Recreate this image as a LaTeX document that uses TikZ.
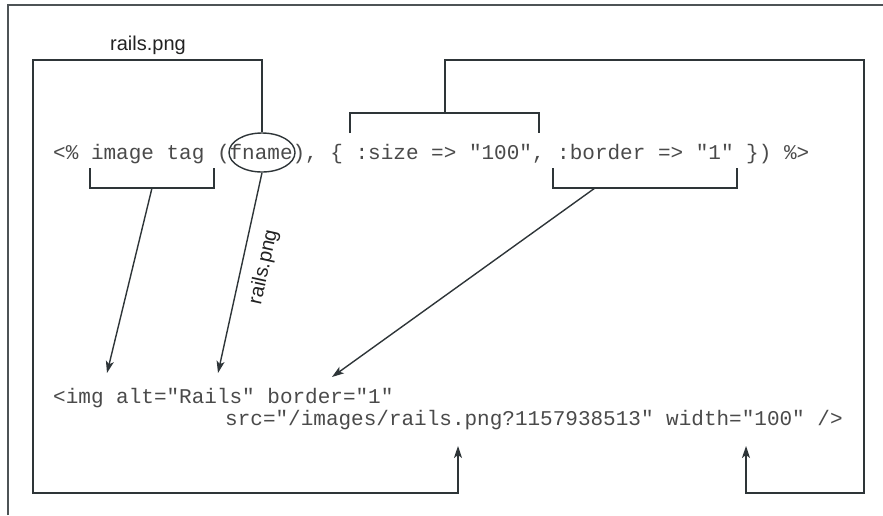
\documentclass[tikz,border=0pt]{standalone}
\usepackage{fontspec}
\setmainfont{Liberation Sans}
\setmonofont{Liberation Mono}
\usetikzlibrary{arrows.meta,shapes.geometric}
\definecolor{ln}{HTML}{2E3538}
\definecolor{codec}{HTML}{4A4A4A}
\definecolor{lblc}{HTML}{222222}
\begin{document}
\begin{tikzpicture}[x=1pt,y=-1pt,
  link/.style={draw=ln, line width=1.4pt},
  arr/.style={link, -{Stealth[length=12pt,width=8pt,inset=3pt]}},
  frameline/.style={draw=ln!85, line width=2pt},
  code/.style={font=\fontsize{21}{25}\selectfont\ttfamily, text=codec, inner sep=0pt, anchor=base west},
  lbl/.style={font=\fontsize{20}{24}\selectfont, text=lblc, inner sep=0pt}]
\useasboundingbox (0,0) rectangle (883,515);
% outer frame
\draw[frameline] (8,515) -- (8,5) -- (883,5);

% code lines
\node[code] (l1) at (53,159) {<\% image tag (fname), \{ :size => "100", :border => "1" \}) \%>};
\node[code] (l2) at (53,403) {<img alt="Rails" border="1"};
\node[code] (l3) at (225,425) {src="/images/rails.png?1157938513" width="100" />};

% labels
\node[lbl, anchor=base] (lbtop) at (148,50) {rails.png};
\node[lbl, rotate=77.6] (lbrot) at (264,267) {rails.png};

% ellipse around fname
\node[ellipse, draw=ln, line width=1.4pt, minimum width=66pt, minimum height=39pt, inner sep=0pt] (fn) at (262,152.5) {};

% named points
\coordinate (tl1) at (262,60);
\coordinate (tl2) at (33,60);
\coordinate (bl1) at (33,493);
\coordinate (bl2) at (458,493);
\coordinate (tipsrc) at (458,446);

\coordinate (szL) at (350,133);
\coordinate (szLt) at (350,113);
\coordinate (szRt) at (539,113);
\coordinate (szR) at (539,133);
\coordinate (szM) at (445,113);
\coordinate (tr1) at (445,60);
\coordinate (tr2) at (864,60);
\coordinate (br1) at (864,493);
\coordinate (br2) at (746,493);
\coordinate (tipw) at (746,446);

\coordinate (itL) at (90,168);
\coordinate (itLb) at (90,188);
\coordinate (itRb) at (214,188);
\coordinate (itR) at (214,168);
\coordinate (itM) at (152,188);
\coordinate (tipimg) at (107,373);

\coordinate (tiprails) at (218,373);

\coordinate (bdL) at (553,168);
\coordinate (bdLb) at (553,188);
\coordinate (bdRb) at (737,188);
\coordinate (bdR) at (737,168);
\coordinate (bdM) at (595,188);
\coordinate (tipbd) at (332,377);

% fname -> src (outer left loop)
\draw[arr] (fn.north) -- (tl1) -- (tl2) -- (bl1) -- (bl2) -- (tipsrc);
% :size bracket -> width (outer right loop)
\draw[link] (szL) -- (szLt) -- (szRt) -- (szR);
\draw[arr] (szM) -- (tr1) -- (tr2) -- (br1) -- (br2) -- (tipw);
% image tag bracket -> <img
\draw[link] (itL) -- (itLb) -- (itRb) -- (itR);
\draw[arr] (itM) -- (tipimg);
% fname -> alt="Rails"
\draw[arr] (fn.south) -- (tiprails);
% :border bracket -> border="1"
\draw[link] (bdL) -- (bdLb) -- (bdRb) -- (bdR);
\draw[arr] (bdM) -- (tipbd);
\end{tikzpicture}
\end{document}
